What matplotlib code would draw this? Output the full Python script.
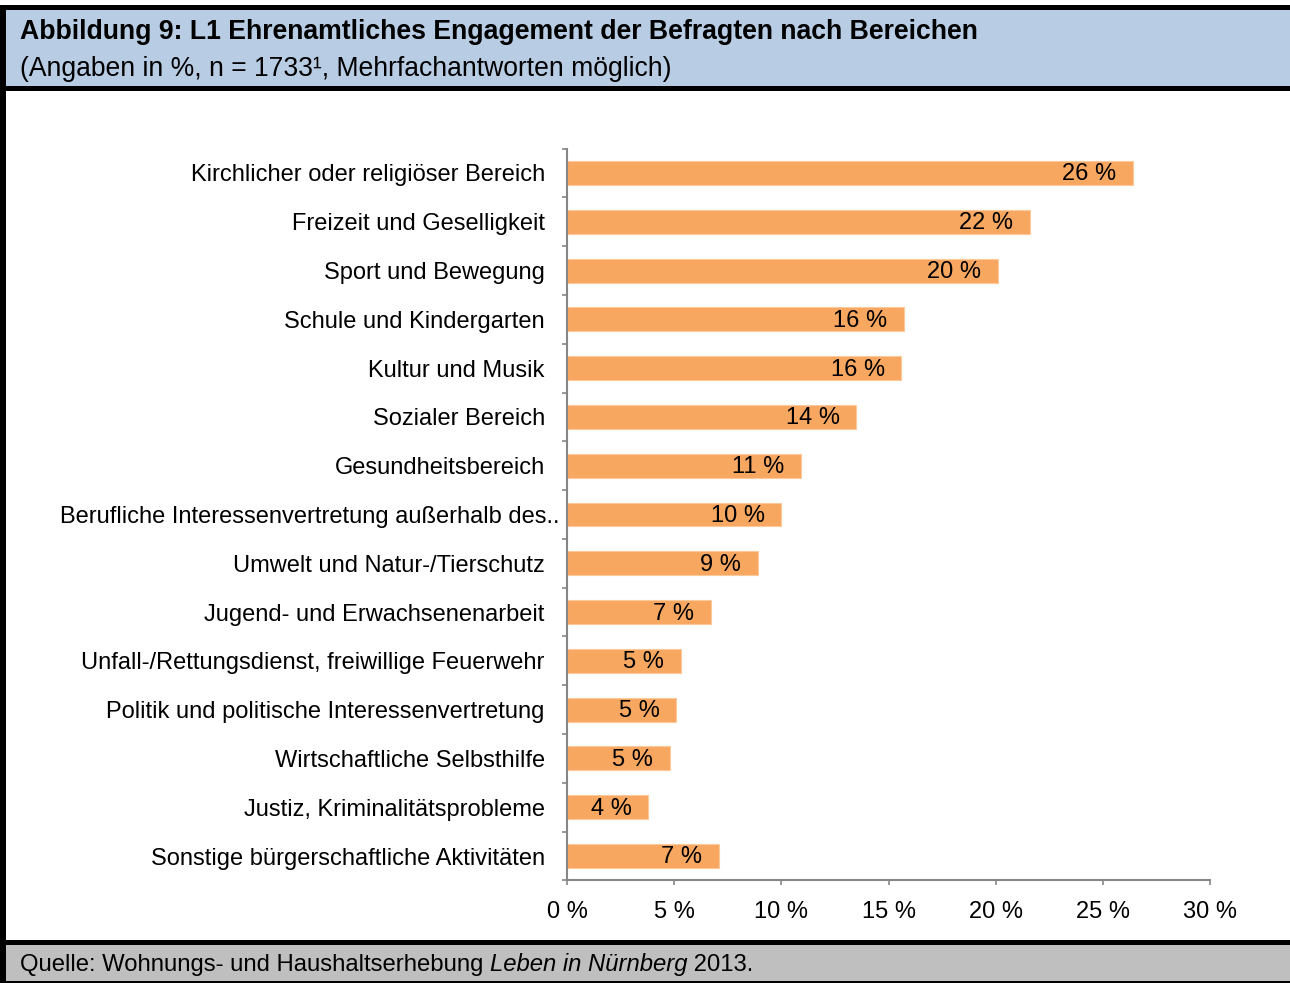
import matplotlib
matplotlib.use("Agg")
import matplotlib.pyplot as plt
import matplotlib.transforms as mtransforms
from matplotlib.patches import Rectangle
from matplotlib.ticker import FixedLocator

plt.rcParams['font.family'] = ['Liberation Sans', 'DejaVu Sans']

# data (top to bottom)
categories = [
    "Kirchlicher oder religiöser Bereich",
    "Freizeit und Geselligkeit",
    "Sport und Bewegung",
    "Schule und Kindergarten",
    "Kultur und Musik",
    "Sozialer Bereich",
    "Gesundheitsbereich",
    "Berufliche Interessenvertretung außerhalb des..",
    "Umwelt und Natur-/Tierschutz",
    "Jugend- und Erwachsenenarbeit",
    "Unfall-/Rettungsdienst, freiwillige Feuerwehr",
    "Politik und politische Interessenvertretung",
    "Wirtschaftliche Selbsthilfe",
    "Justiz, Kriminalitätsprobleme",
    "Sonstige bürgerschaftliche Aktivitäten",
]
values = [26.4, 21.6, 20.1, 15.7, 15.6, 13.5, 10.9, 10.0, 8.9, 6.7, 5.3, 5.1, 4.8, 3.8, 7.1]
xticks = [0, 5, 10, 15, 20, 25, 30]

W, H = 1290, 983
fig = plt.figure(figsize=(W / 100, H / 100), dpi=100)


def box(x0, y0, x1, y1, color):
    # pixel coords (origin top left) -> figure fraction
    fig.add_artist(Rectangle((x0 / W, 1 - y1 / H), (x1 - x0) / W, (y1 - y0) / H,
                             transform=fig.transFigure, facecolor=color,
                             edgecolor='none', zorder=0))


# frame, header and footer bands
box(0, 5, W, 91, 'black')
box(6, 10, W, 86, '#B8CCE4')
box(0, 5, 6, H, 'black')
box(0, 940, W, H, 'black')
box(6, 945, W, 981, '#BFBFBF')

fig.text(20 / W, 1 - 32 / H, "Abbildung 9: L1 Ehrenamtliches Engagement der Befragten nach Bereichen",
         fontsize=19.2, fontweight='bold', va='center', ha='left')
fig.text(20 / W, 1 - 69 / H, "(Angaben in %, n = 1733¹, Mehrfachantworten möglich)",
         fontsize=19.1, va='center', ha='left')

# footer with italic part
fig.canvas.draw()
rend = fig.canvas.get_renderer()
x = 20 / W
for part, style in [("Quelle: Wohnungs- und Haushaltserhebung ", 'normal'),
                    ("Leben in Nürnberg", 'italic'),
                    (" 2013.", 'normal')]:
    t = fig.text(x, 1 - 965 / H, part, fontsize=17.2, style=style, va='center', ha='left')
    bb = t.get_window_extent(renderer=rend)
    x = bb.x1 / W

ax = fig.add_axes([567 / W, 1 - 880.4 / H, (1210 - 567) / W, (880.4 - 148.6) / H])
ypos = list(range(len(categories)))
ax.barh(ypos, values, height=0.49, color='#F8A761', edgecolor='#FBC99A', linewidth=0.8)
ax.set_ylim(len(categories) - 0.5, -0.5)
ax.set_xlim(0, 30)

for y, v in zip(ypos, values):
    ax.text(v - 0.78, y + 0.03, f"{int(v + 0.5)} %", ha='right', va='center', fontsize=17)

# truncated label runs past the others (Excel style), so place it by hand
labels = list(categories)
long_idx = 7
labels[long_idx] = ""
ax.set_yticks(ypos)
ax.set_yticklabels(labels, fontsize=17)
trans = mtransforms.blended_transform_factory(fig.transFigure, ax.transData)
ax.text(560 / W, long_idx, categories[long_idx], transform=trans,
        ha='right', va='center_baseline', fontsize=17)

ax.yaxis.set_minor_locator(FixedLocator([i - 0.5 for i in range(len(categories) + 1)]))
ax.tick_params(axis='y', which='major', length=0, pad=16)
ax.tick_params(axis='y', which='minor', length=3.6, width=1.2, color='#868686')

ax.set_xticks(xticks)
ax.set_xticklabels([f"{t} %" for t in xticks], fontsize=17)
ax.tick_params(axis='x', length=3.6, width=1.2, color='#868686', pad=11)

for side in ['top', 'right']:
    ax.spines[side].set_visible(False)
for side in ['left', 'bottom']:
    ax.spines[side].set_color('#868686')
    ax.spines[side].set_linewidth(1.5)

fig.savefig("out.png", dpi=100)
